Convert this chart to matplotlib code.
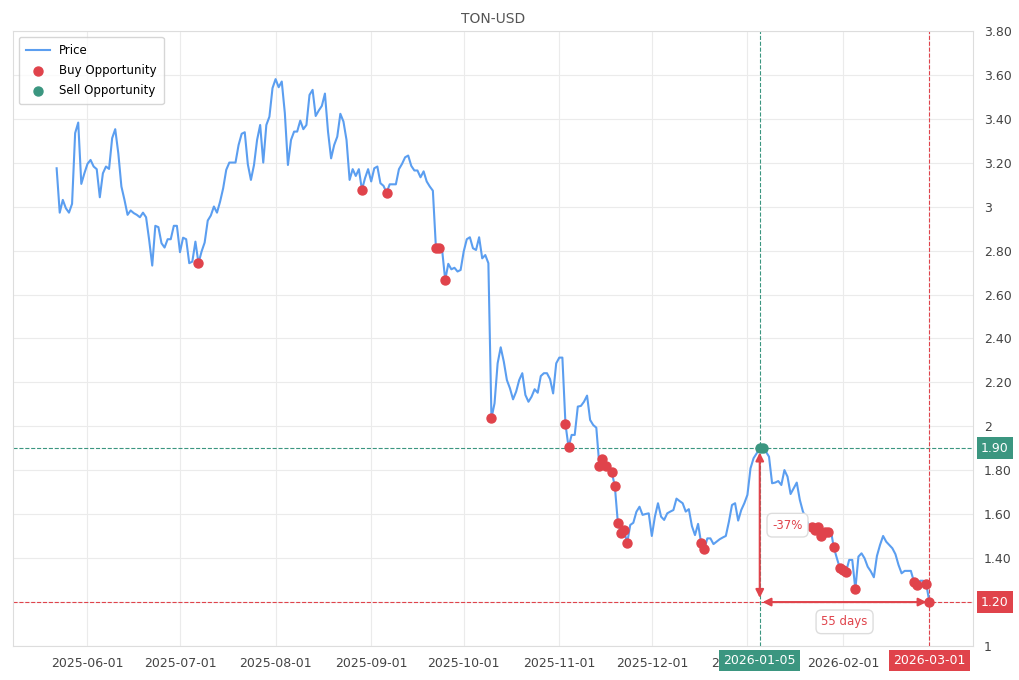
import matplotlib
matplotlib.use("Agg")
import matplotlib.pyplot as plt
import matplotlib.dates as mdates
import matplotlib.transforms as mtransforms
from matplotlib.ticker import MultipleLocator, FuncFormatter
import pandas as pd

# Daily TON-USD close
start_date = "2025-05-22"
prices = [
    3.175, 2.973, 3.031, 2.993, 2.973, 3.013, 3.335, 3.383, 3.104, 3.152,
    3.195, 3.213, 3.183, 3.171, 3.043, 3.152, 3.183, 3.172, 3.312, 3.353,
    3.243, 3.092, 3.031, 2.963, 2.983, 2.971, 2.963, 2.952, 2.973, 2.952,
    2.849, 2.732, 2.913, 2.907, 2.834, 2.814, 2.852, 2.852, 2.913, 2.913,
    2.793, 2.859, 2.852, 2.743, 2.750, 2.841, 2.743, 2.796, 2.837, 2.937,
    2.960, 3.001, 2.973, 3.023, 3.084, 3.168, 3.201, 3.201, 3.201, 3.281,
    3.332, 3.339, 3.193, 3.122, 3.190, 3.304, 3.372, 3.201, 3.372, 3.410,
    3.540, 3.581, 3.544, 3.570, 3.426, 3.190, 3.304, 3.342, 3.342, 3.392,
    3.353, 3.372, 3.509, 3.532, 3.413, 3.438, 3.459, 3.515, 3.342, 3.220,
    3.281, 3.319, 3.423, 3.388, 3.304, 3.122, 3.171, 3.140, 3.171, 3.077,
    3.130, 3.171, 3.115, 3.175, 3.183, 3.107, 3.095, 3.064, 3.102, 3.102,
    3.102, 3.171, 3.195, 3.225, 3.233, 3.186, 3.165, 3.165, 3.134, 3.161,
    3.115, 3.092, 3.073, 2.811, 2.811, 2.803, 2.667, 2.740, 2.715, 2.722,
    2.705, 2.712, 2.796, 2.852, 2.861, 2.811, 2.803, 2.861, 2.765, 2.780,
    2.743, 2.037, 2.105, 2.287, 2.360, 2.295, 2.211, 2.173, 2.123, 2.158,
    2.211, 2.242, 2.143, 2.112, 2.135, 2.169, 2.153, 2.229, 2.242, 2.242,
    2.215, 2.150, 2.287, 2.313, 2.313, 2.010, 1.905, 1.961, 1.961, 2.090,
    2.093, 2.112, 2.140, 2.029, 2.006, 1.994, 1.820, 1.850, 1.820, 1.817,
    1.791, 1.729, 1.559, 1.516, 1.528, 1.468, 1.551, 1.561, 1.611, 1.634,
    1.597, 1.601, 1.604, 1.501, 1.589, 1.650, 1.589, 1.574, 1.604, 1.612,
    1.619, 1.671, 1.660, 1.650, 1.612, 1.623, 1.546, 1.505, 1.556, 1.468,
    1.440, 1.490, 1.490, 1.464, 1.475, 1.486, 1.494, 1.501, 1.566, 1.642,
    1.650, 1.571, 1.619, 1.650, 1.688, 1.809, 1.855, 1.877, 1.900, 1.900,
    1.885, 1.862, 1.741, 1.744, 1.751, 1.733, 1.801, 1.771, 1.692, 1.718,
    1.744, 1.665, 1.612, 1.580, 1.546, 1.543, 1.528, 1.543, 1.501, 1.520,
    1.520, 1.531, 1.449, 1.400, 1.354, 1.346, 1.339, 1.392, 1.392, 1.258,
    1.407, 1.422, 1.399, 1.361, 1.340, 1.313, 1.410, 1.460, 1.501, 1.475,
    1.460, 1.445, 1.418, 1.369, 1.331, 1.342, 1.342, 1.342, 1.293, 1.280,
    1.297, 1.297, 1.282, 1.200,
]

# positions (day index) of the signals
buy_idx = [46, 99, 107, 123, 124, 126, 141, 165, 166, 176, 177, 178, 180, 181,
           182, 183, 184, 185, 209, 210, 245, 246, 247, 248, 249, 250, 252,
           254, 255, 256, 259, 278, 279, 282, 283]
sell_idx = [228, 229]

sell_date = "2026-01-05"
end_date = "2026-03-01"
sell_price = 1.90
end_price = 1.20
change_text = "-37%"
days_text = "55 days"

BLUE = "#5b9ef0"
RED = "#e0434b"
GREEN = "#3b9680"

dates = pd.date_range(start_date, periods=len(prices), freq="D")
df = pd.DataFrame({"Date": dates, "Price": prices})
buys = df.iloc[buy_idx]
sells = df.iloc[sell_idx]

fig = plt.figure(figsize=(10.2, 6.8), dpi=100)
ax = fig.add_axes([13 / 1020, 34 / 680, 960 / 1020, 615 / 680])

ax.plot(df["Date"], df["Price"], color=BLUE, lw=1.5, label="Price", zorder=3)
ax.scatter(buys["Date"], buys["Price"], color=RED, s=42, label="Buy Opportunity", zorder=4)
ax.scatter(sells["Date"], sells["Price"], color=GREEN, s=42, label="Sell Opportunity", zorder=4)

t_sell = pd.Timestamp(sell_date)
t_end = pd.Timestamp(end_date)

ax.axhline(sell_price, color=GREEN, ls="--", lw=0.8, zorder=2)
ax.axhline(end_price, color=RED, ls="--", lw=0.8, zorder=2)
ax.axvline(t_sell, color=GREEN, ls="--", lw=0.8, zorder=2)
ax.axvline(t_end, color=RED, ls="--", lw=0.8, zorder=2)

ax.annotate("", xy=(t_sell, end_price), xytext=(t_sell, sell_price),
            arrowprops=dict(arrowstyle="<|-|>", color=RED, lw=1.5,
                            mutation_scale=12, shrinkA=3, shrinkB=3), zorder=5)
ax.annotate("", xy=(t_end, end_price), xytext=(t_sell, end_price),
            arrowprops=dict(arrowstyle="<|-|>", color=RED, lw=1.5,
                            mutation_scale=12, shrinkA=2, shrinkB=2), zorder=5)

box = dict(boxstyle="round,pad=0.45", fc="white", ec="#dddddd", lw=1)
ax.text(t_sell + pd.Timedelta(days=9), (sell_price + end_price) / 2, change_text,
        color=RED, fontsize=8.5, ha="center", va="center", bbox=box, zorder=6)
ax.text(t_sell + (t_end - t_sell) / 2, end_price - 0.09, days_text,
        color=RED, fontsize=8.5, ha="center", va="center", bbox=box, zorder=6)

ax.set_ylim(1, 3.8)
ax.margins(x=0.05)
ax.yaxis.tick_right()
ax.yaxis.set_major_locator(MultipleLocator(0.2))
ax.yaxis.set_major_formatter(FuncFormatter(
    lambda v, p: f"{v:.0f}" if abs(v - round(v)) < 1e-6 else f"{v:.2f}"))
ax.xaxis.set_major_locator(mdates.MonthLocator())
ax.xaxis.set_major_formatter(mdates.DateFormatter("%Y-%m-%d"))
ax.tick_params(axis="both", length=0, labelsize=9, labelcolor="#444444")
ax.tick_params(axis="y", pad=8)
ax.tick_params(axis="x", pad=8)

ax.grid(True, color="#ebebeb", lw=0.8)
ax.set_axisbelow(True)
for sp in ax.spines.values():
    sp.set_color("#dddddd")

# value tags on the right axis and date tags under the x axis
ytrans = mtransforms.blended_transform_factory(ax.transAxes, ax.transData)
xtrans = mtransforms.blended_transform_factory(ax.transData, ax.transAxes)
for val, col in [(sell_price, GREEN), (end_price, RED)]:
    ax.text(1.0085, val, f"{val:.2f}", transform=ytrans, color="white", fontsize=9,
            ha="left", va="center", zorder=7, clip_on=False,
            bbox=dict(boxstyle="square,pad=0.35", fc=col, ec="none"))
for t, col in [(t_sell, GREEN), (t_end, RED)]:
    ax.text(t, -0.0235, t.strftime("%Y-%m-%d"), transform=xtrans, color="white",
            fontsize=9, ha="center", va="center", zorder=7, clip_on=False,
            bbox=dict(boxstyle="square,pad=0.35", fc=col, ec="none"))

ax.set_title("TON-USD", fontsize=10, color="#555555", pad=6)
ax.legend(loc="upper left", fontsize=8.5, frameon=True, edgecolor="#cccccc",
          fancybox=True, borderpad=0.6, labelspacing=0.6)

fig.savefig("out.png", dpi=100)
